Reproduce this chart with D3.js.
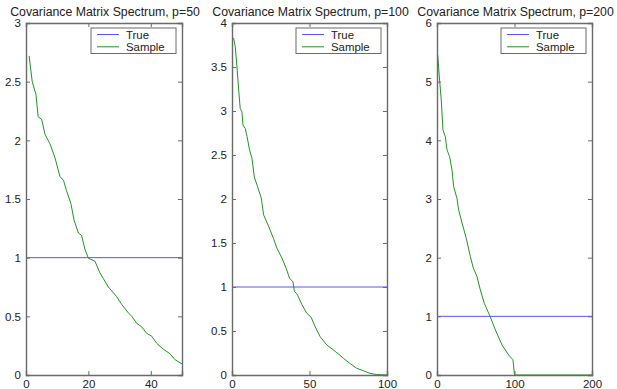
<!DOCTYPE html>
<html>
<head>
<meta charset="utf-8">
<script src="https://cdn.jsdelivr.net/npm/d3@7"></script>
<style>
  html, body { margin: 0; padding: 0; background: #fff; }
  svg { display: block; }
  text { font-family: "Liberation Sans", Arial, Helvetica, sans-serif; fill: #222; }
</style>
</head>
<body>
<svg id="chart" width="617" height="389"></svg>
<script>
// ---- data ----
const titles = ["Covariance Matrix Spectrum, p=50", "Covariance Matrix Spectrum, p=100", "Covariance Matrix Spectrum, p=200"];
const pValues = [50, 100, 200];
const yMaxValues = [3, 4, 6];
const xTicks1 = [0, 20, 40];
const xTicks2 = [0, 50, 100];
const xTicks3 = [0, 100, 200];
const yTicks1 = [0, 0.5, 1, 1.5, 2, 2.5, 3];
const yTicks2 = [0, 0.5, 1, 1.5, 2, 2.5, 3, 3.5, 4];
const yTicks3 = [0, 1, 2, 3, 4, 5, 6];
const legendLabels = ["True", "Sample"];
const trueValue = 1;

const sampleX1 = [1, 2, 3.2, 3.9, 5, 6.1, 7.7, 9.3, 10.9, 12, 13, 14.4, 15.4, 16.8, 17.8, 18.9, 20, 22.1, 23.7, 26.4, 29, 30.7, 32.8, 33.9, 35.5, 37.1, 38.7, 40.3, 41.9, 44, 46.2, 47.8, 50];
const sampleY1 = [2.72, 2.50, 2.39, 2.20, 2.18, 2.05, 1.97, 1.85, 1.69, 1.66, 1.57, 1.46, 1.32, 1.21, 1.19, 1.07, 0.995, 0.97, 0.87, 0.75, 0.67, 0.60, 0.53, 0.50, 0.44, 0.41, 0.355, 0.33, 0.27, 0.22, 0.18, 0.13, 0.095];

const sampleX2 = [1, 2.1, 3.2, 4.3, 5.3, 6.4, 7.1, 8.6, 9.7, 11.3, 12.9, 14.4, 16.5, 18.9, 20.4, 23.6, 26.8, 29, 32.2, 35, 37.1, 39.3, 40.3, 42.3, 45.1, 48.3, 51.1, 53.6, 56.9, 61.2, 65, 68.6, 71.9, 76.2, 80.5, 84.7, 89, 93.3, 100];
const sampleY2 = [3.83, 3.73, 3.50, 3.24, 3.03, 2.99, 2.84, 2.80, 2.71, 2.56, 2.46, 2.25, 2.14, 2.01, 1.82, 1.69, 1.55, 1.44, 1.33, 1.21, 1.10, 1.06, 0.95, 0.91, 0.80, 0.70, 0.655, 0.55, 0.435, 0.34, 0.29, 0.24, 0.19, 0.13, 0.076, 0.049, 0.019, 0.005, 0];

const sampleX3 = [1, 3, 5.5, 7.7, 10.8, 12.9, 16.3, 19.4, 21.5, 25.8, 28, 32.3, 37.8, 43, 46.9, 51.6, 55.9, 61.1, 68.8, 75.3, 84, 92.5, 98, 100, 200];
const sampleY3 = [5.45, 5.08, 4.69, 4.18, 4.06, 3.84, 3.72, 3.49, 3.21, 3.01, 2.81, 2.59, 2.33, 2.02, 1.82, 1.68, 1.45, 1.22, 0.99, 0.77, 0.51, 0.34, 0.26, 0, 0];

// ---- layout ----
const panels = [
  { left: 26,  right: 182, p: pValues[0], yMax: yMaxValues[0], title: titles[0], xTicks: xTicks1, yTicks: yTicks1, sx: sampleX1, sy: sampleY1 },
  { left: 232, right: 387, p: pValues[1], yMax: yMaxValues[1], title: titles[1], xTicks: xTicks2, yTicks: yTicks2, sx: sampleX2, sy: sampleY2 },
  { left: 437, right: 592, p: pValues[2], yMax: yMaxValues[2], title: titles[2], xTicks: xTicks3, yTicks: yTicks3, sx: sampleX3, sy: sampleY3 }
];
const plotTop = 23, plotBottom = 375;
const blue = "#5555ff", green = "#1e961e", axisColor = "#6a6a6a";

const svg = d3.select("#chart");

panels.forEach(P => {
  const x = d3.scaleLinear().domain([0, P.p]).range([P.left, P.right]);
  const y = d3.scaleLinear().domain([0, P.yMax]).range([plotBottom, plotTop]);
  const g = svg.append("g");

  // title
  g.append("text")
    .attr("x", (P.left + P.right) / 2 + 1).attr("y", 15.5)
    .attr("text-anchor", "middle")
    .style("font-size", "12.3px")
    .text(P.title);

  // data lines
  const line = d3.line().x(d => x(d[0])).y(d => y(d[1]));
  g.append("path")
    .datum([[0, trueValue], [P.p, trueValue]])
    .attr("d", line).attr("fill", "none").attr("stroke", blue).attr("stroke-width", 1);
  g.append("path")
    .datum(P.sx.map((v, i) => [v, P.sy[i]]))
    .attr("d", line).attr("fill", "none").attr("stroke", green).attr("stroke-width", 1);

  // axes (ticks inward, box)
  const tickLen = 4;
  const xb = d3.axisBottom(x).tickValues(P.xTicks).tickSize(-tickLen).tickPadding(4.5).tickFormat(d3.format("d"));
  const xt = d3.axisTop(x).tickValues(P.xTicks).tickSize(-tickLen).tickFormat("");
  const yl = d3.axisLeft(y).tickValues(P.yTicks).tickSize(-tickLen).tickPadding(5).tickFormat(d => String(d));
  const yr = d3.axisRight(y).tickValues(P.yTicks).tickSize(-tickLen).tickFormat("");

  const styleAxis = sel => {
    sel.select(".domain").attr("stroke", axisColor).attr("stroke-width", 1.4);
    sel.selectAll(".tick line").attr("stroke", axisColor).attr("stroke-width", 1);
    sel.selectAll(".tick text").style("font-size", "11.5px").style("font-family", "'Liberation Sans', Arial, sans-serif").attr("fill", "#222");
  };
  g.append("g").attr("transform", `translate(0,${plotBottom})`).call(xb).call(styleAxis)
    .selectAll(".tick text").attr("dy", "0.71em");
  g.append("g").attr("transform", `translate(0,${plotTop})`).call(xt).call(styleAxis);
  g.append("g").attr("transform", `translate(${P.left},0)`).call(yl).call(styleAxis);
  g.append("g").attr("transform", `translate(${P.right},0)`).call(yr).call(styleAxis);

  // legend
  const lw = 85, lh = 25.5;
  const lx = P.right - 6 - lw, ly = 28;
  const lg = g.append("g").attr("transform", `translate(${lx},${ly})`);
  lg.append("rect").attr("width", lw).attr("height", lh).attr("fill", "#fff").attr("stroke", axisColor).attr("stroke-width", 1);
  [blue, green].forEach((c, i) => {
    const yy = 6.5 + i * 12.3;
    lg.append("line").attr("x1", 6).attr("x2", 28).attr("y1", yy).attr("y2", yy).attr("stroke", c).attr("stroke-width", 1);
    lg.append("text").attr("x", 35).attr("y", yy + 4).style("font-size", "11.4px").text(legendLabels[i]);
  });
});
</script>
</body>
</html>
